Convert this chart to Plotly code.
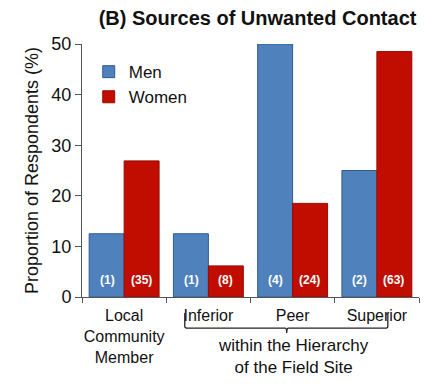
import plotly.graph_objects as go

categories = ["Local<br>Community<br>Member", "Inferior", "Peer", "Superior"]
men_values = [12.5, 12.5, 50.0, 25.0]
women_values = [26.9, 6.15, 18.5, 48.5]
men_counts = ["(1)", "(1)", "(4)", "(2)"]
women_counts = ["(35)", "(8)", "(24)", "(63)"]
y_ticks = [0, 10, 20, 30, 40, 50]

BLUE = "#4F81BD"
BLUE_EDGE = "#2F5D8F"
RED = "#C00D00"
RED_EDGE = "#9A0A00"
FONT = "Liberation Sans, Arial, sans-serif"

fig = go.Figure()
fig.add_trace(go.Bar(name="Men", x=categories, y=men_values,
                     marker=dict(color=BLUE, line=dict(color=BLUE_EDGE, width=1))))
fig.add_trace(go.Bar(name="Women", x=categories, y=women_values,
                     marker=dict(color=RED, line=dict(color=RED_EDGE, width=1))))

for i, c in enumerate(categories):
    fig.add_annotation(x=c, y=3.4, text=f"<b>{men_counts[i]}</b>", showarrow=False,
                       xshift=-17, font=dict(color="white", size=12, family=FONT))
    fig.add_annotation(x=c, y=3.4, text=f"<b>{women_counts[i]}</b>", showarrow=False,
                       xshift=17, font=dict(color="white", size=12, family=FONT))

# brace under "within the Hierarchy" categories
fig.add_shape(type="path", xref="x", yref="paper",
              path="M 0.72,-0.063 L 0.72,-0.115 Q 0.72,-0.123 0.74,-0.123 L 1.91,-0.123 "
                   "Q 1.93,-0.123 1.93,-0.142 Q 1.93,-0.123 1.95,-0.123 L 3.11,-0.123 "
                   "Q 3.13,-0.123 3.13,-0.115 L 3.13,-0.063",
              line=dict(color="#222", width=1.3))
fig.add_annotation(x=2.01, y=-0.145, xref="x", yref="paper", yanchor="top",
                   text="within the Hierarchy<br>of the Field Site", showarrow=False,
                   font=dict(size=17, color="#111", family=FONT))

fig.update_layout(
    width=437, height=376,
    margin=dict(l=74, r=26, t=36, b=87),
    paper_bgcolor="white", plot_bgcolor="white",
    barmode="group", bargap=0.17, bargroupgap=0,
    title=dict(text="<b>(B) Sources of Unwanted Contact</b>", x=0.571, xanchor="center",
               y=0.973, yanchor="middle", font=dict(size=20, color="#111", family=FONT)),
    font=dict(family=FONT, color="#111"),
    legend=dict(x=0.02, y=0.96, xanchor="left", yanchor="top", bgcolor="rgba(0,0,0,0)",
                itemwidth=30, font=dict(size=17, color="#111", family=FONT), tracegroupgap=0),
    xaxis=dict(showline=True, linecolor="#555", linewidth=1, ticks="outside",
               tickson="boundaries", ticklen=5, tickcolor="#555", tickangle=0,
               automargin=False, ticklabelstandoff=4,
               tickfont=dict(size=16, color="#111", family=FONT)),
    yaxis=dict(range=[0, 50], tickvals=y_ticks, showline=True, linecolor="#555",
               linewidth=1, ticks="outside", ticklen=6, tickcolor="#555", showgrid=False,
               zeroline=False, automargin=False,
               tickfont=dict(size=18, color="#111", family=FONT),
               title=dict(text="Proportion of Respondents (%)", standoff=8,
                          font=dict(size=18, color="#111", family=FONT))),
)

fig.write_html("out.html")
